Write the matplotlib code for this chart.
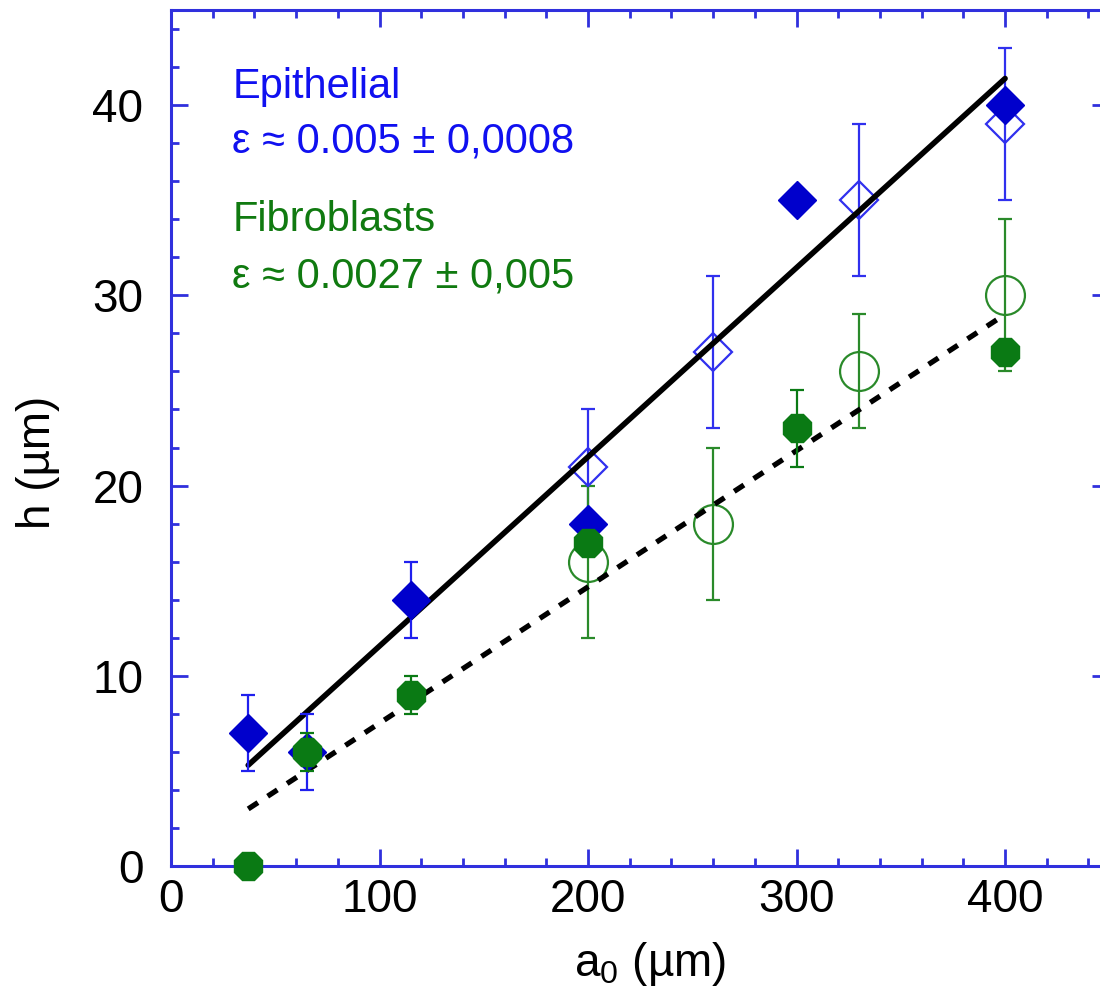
import matplotlib
matplotlib.use("Agg")
import matplotlib.pyplot as plt
from matplotlib.ticker import MultipleLocator

plt.rcParams['font.family'] = ['Liberation Sans', 'DejaVu Sans']
plt.rcParams['mathtext.fontset'] = 'custom'
plt.rcParams['mathtext.rm'] = 'Liberation Sans'
plt.rcParams['mathtext.it'] = 'Liberation Sans'

# epithelial, filled diamonds
epi_x = [37, 65, 115, 200, 300, 400]
epi_h = [7, 6, 14, 18, 35, 40]
epi_err = [2, 2, 2, 0, 0, 0]
# epithelial, open diamonds
epi2_x = [200, 260, 330, 400]
epi2_h = [21, 27, 35, 39]
epi2_err = [3, 4, 4, 4]
# fibroblasts, filled
fib_x = [37, 65, 115, 200, 300, 400]
fib_h = [0, 6, 9, 17, 23, 27]
fib_err = [0, 1, 1, 0, 2, 0]
# fibroblasts, open circles
fib2_x = [200, 260, 330, 400]
fib2_h = [16, 18, 26, 30]
fib2_err = [4, 4, 3, 4]
# linear fits
fit_x = [37, 400]
fit_epi = [5.3, 41.4]
fit_fib = [3.0, 29.0]

blue = '#0000cc'
green = '#0a7a14'
axcol = '#3030dd'

fig = plt.figure(figsize=(11, 10), dpi=100)
ax = fig.add_axes([0.1555, 0.134, 0.853, 0.856])

# open symbols first
ax.errorbar(epi2_x, epi2_h, yerr=epi2_err, fmt='D', ms=19, mfc='none', mec='#3030ee',
            mew=1.6, ecolor='#3030ee', elinewidth=1.6, capsize=5, capthick=1.6, zorder=2)
ax.errorbar(fib2_x, fib2_h, yerr=fib2_err, fmt='o', ms=28, mfc='none', mec='#2a8a2a',
            mew=1.6, ecolor='#2a8a2a', elinewidth=1.6, capsize=5, capthick=1.6, zorder=2)

ax.plot(fit_x, fit_epi, color='black', lw=4, solid_capstyle='round', zorder=3)
ax.plot(fit_x, fit_fib, color='black', lw=3.8, linestyle=(0, (2.2, 2.2)), zorder=3)

# filled symbols
ax.errorbar(epi_x[:3], epi_h[:3], yerr=epi_err[:3], fmt='none', ecolor='#2020ee',
            elinewidth=1.6, capsize=5, capthick=1.6, zorder=4)
ax.plot(epi_x, epi_h, 'D', ms=19.5, color=blue, mec=blue, zorder=5, clip_on=False)
ax.errorbar(fib_x, fib_h, yerr=fib_err, fmt='none', ecolor=green,
            elinewidth=1.6, capsize=5, capthick=1.6, zorder=5)
ax.plot(fib_x, fib_h, '8', ms=22, color=green, mec=green, zorder=6, clip_on=False)

ax.set_xlim(0, 450)
ax.set_ylim(0, 45)
ax.xaxis.set_major_locator(MultipleLocator(100))
ax.xaxis.set_minor_locator(MultipleLocator(20))
ax.yaxis.set_major_locator(MultipleLocator(10))
ax.yaxis.set_minor_locator(MultipleLocator(2))
ax.tick_params(which='both', direction='in', top=True, right=True, color=axcol, width=2)
ax.tick_params(which='major', length=12)
ax.tick_params(which='minor', length=6)
ax.tick_params(axis='x', which='major', labelsize=33, pad=9)
ax.tick_params(axis='y', which='major', labelsize=33, pad=20)
for s in ax.spines.values():
    s.set_color(axcol)
    s.set_linewidth(2.2)

ax.set_xlabel('a$_0$ (\u00b5m)', fontsize=33)
ax.set_ylabel('h (\u00b5m)', fontsize=33)
ax.xaxis.set_label_coords(0.51, -0.086)
ax.yaxis.set_label_coords(-0.118, 0.472)

ax.text(29.3, 40.4, 'Epithelial', color='#1010f0', fontsize=30)
ax.text(29.3, 37.5, '\u03b5 \u2248 0.005 \u00b1 0,0008', color='#1010f0', fontsize=30)
ax.text(29.3, 33.4, 'Fibroblasts', color='#107a10', fontsize=30)
ax.text(29.3, 30.4, '\u03b5 \u2248 0.0027 \u00b1 0,005', color='#107a10', fontsize=30)

fig.savefig('out.png', dpi=100)
